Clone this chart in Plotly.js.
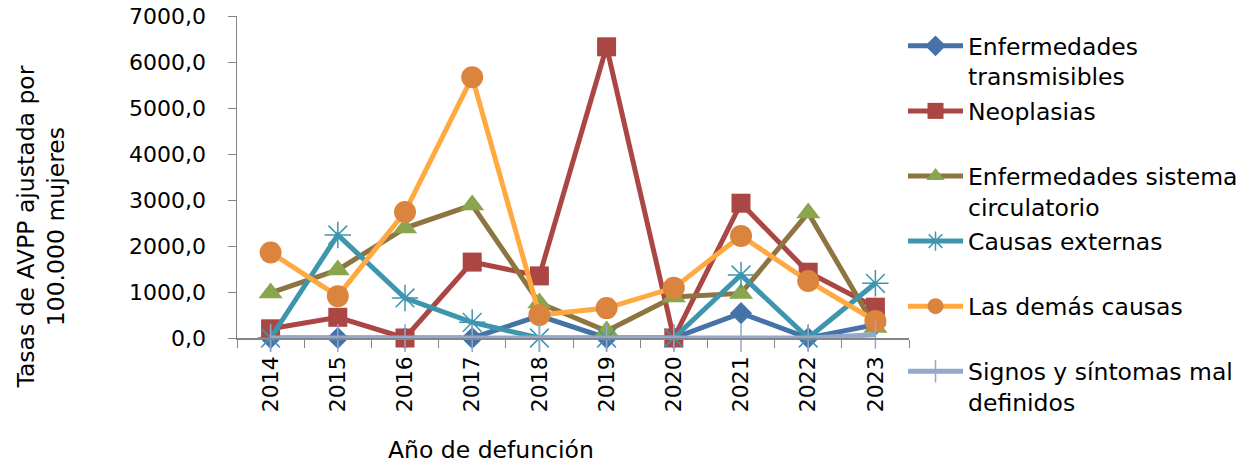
<!DOCTYPE html>
<html>
<head>
<meta charset="utf-8">
<script src="https://cdn.plot.ly/plotly-3.0.1.min.js"></script>
<style>html,body{margin:0;padding:0;background:#fff;}#chart{width:1255px;height:467px;}</style>
</head>
<body>
<div id="chart"></div>
<script>
const years = ["2014","2015","2016","2017","2018","2019","2020","2021","2022","2023"];
const seriesNames = [
  "Enfermedades<br>transmisibles",
  "Neoplasias<br> ",
  "Enfermedades sistema<br>circulatorio",
  "Causas externas<br> ",
  "Las demás causas<br> ",
  "Signos y síntomas mal<br>definidos"
];
const transmisibles = [0, 0, 0, 0, 480, 0, 0, 540, 0, 290];
const neoplasias    = [200, 450, 0, 1650, 1350, 6330, 0, 2930, 1430, 670];
const circulatorio  = [980, 1480, 2390, 2890, 760, 150, 890, 970, 2720, 230];
const externas      = [0, 2240, 870, 340, 0, 0, 0, 1370, 0, 1190];
const demas         = [1860, 910, 2740, 5670, 500, 650, 1090, 2220, 1240, 370];
const signos        = [0, 0, 0, 0, 0, 0, 0, 0, 0, 70];

const FONT = "DejaVu Sans, Verdana, sans-serif";
const styles = [
  {line:"#4572A7", mcol:"#4572A7", sym:"diamond", size:17, mline:0},
  {line:"#AA4643", mcol:"#AA4643", sym:"square", size:19, mline:0},
  {line:"#8E7440", mcol:"#89A54E", sym:"triangle-up", size:21, mline:0},
  {line:"#3D96AE", mcol:"#3D96AE", sym:"asterisk-open", size:22, mline:1.5},
  {line:"#FFA940", mcol:"#DB843D", sym:"circle", size:22, mline:0},
  {line:"#92A8CD", mcol:"#92A8CD", sym:"line-ns-open", size:20, mline:1.5}
];
const data = [transmisibles, neoplasias, circulatorio, externas, demas, signos];

const traces = data.map((vals, i) => ({
  type: "scatter",
  mode: "lines+markers",
  x: years,
  y: vals,
  name: seriesNames[i],
  legendgroup: "g" + i,
  line: {color: styles[i].line, width: 5},
  marker: {
    symbol: styles[i].sym,
    size: styles[i].size,
    color: styles[i].mcol,
    line: {color: styles[i].mcol, width: styles[i].mline}
  },
  cliponaxis: false
}));

const layout = {
  width: 1255,
  height: 467,
  margin: {l: 237, r: 344, t: 16, b: 129},
  paper_bgcolor: "#fff",
  plot_bgcolor: "#fff",
  font: {family: FONT, size: 22, color: "#000"},
  showlegend: true,
  legend: {
    x: 1 - 6/674, xanchor: "left",
    y: 1 - 8/322, yanchor: "top",
    valign: "top",
    itemwidth: 55,
    maxheight: 460,
    traceorder: "grouped",
    tracegroupgap: 1,
    font: {family: FONT, size: 23.5, color: "#000"},
    bgcolor: "rgba(0,0,0,0)"
  },
  xaxis: {
    type: "category",
    range: [-0.5, 9.5],
    tickangle: -90,
    tickson: "boundaries",
    ticks: "outside",
    ticklen: 8,
    tickcolor: "#868686",
    ticklabelstandoff: 8,
    showline: true,
    linecolor: "#868686",
    linewidth: 1.5,
    showgrid: false,
    zeroline: false,
    tickfont: {family: FONT, size: 22, color: "#000"},
    fixedrange: true
  },
  yaxis: {
    range: [0, 7000],
    tickvals: [0,1000,2000,3000,4000,5000,6000,7000],
    ticktext: ["0,0","1000,0","2000,0","3000,0","4000,0","5000,0","6000,0","7000,0"],
    ticks: "outside",
    ticklen: 8,
    tickcolor: "#868686",
    ticklabelstandoff: 17,
    showline: true,
    linecolor: "#868686",
    linewidth: 1.5,
    showgrid: false,
    zeroline: false,
    tickfont: {family: FONT, size: 22, color: "#000"},
    fixedrange: true
  },
  annotations: [
    {
      text: "Tasas de AVPP ajustada por<br>100.000 mujeres",
      xref: "paper", yref: "paper",
      x: (40-237)/674, xanchor: "center",
      y: (467-129-227)/322, yanchor: "middle",
      textangle: -90,
      showarrow: false,
      font: {family: FONT, size: 23.5, color: "#000"}
    },
    {
      text: "Año de defunción",
      xref: "paper", yref: "paper",
      x: (492-237)/674, xanchor: "center",
      y: -(450-338)/322, yanchor: "middle",
      showarrow: false,
      font: {family: FONT, size: 23.5, color: "#000"}
    }
  ]
};

Plotly.newPlot("chart", traces, layout, {displayModeBar: false, staticPlot: true});
</script>
</body>
</html>
